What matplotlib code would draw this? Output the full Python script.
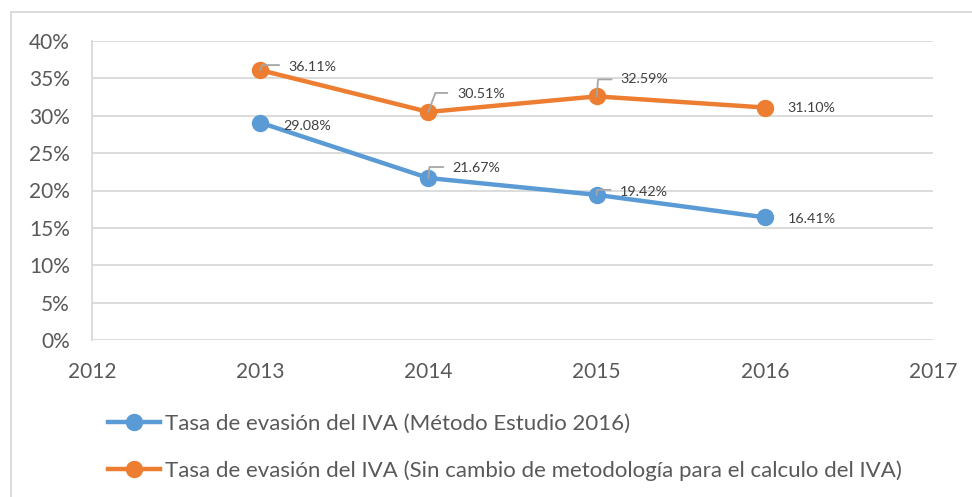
import matplotlib
matplotlib.use("Agg")
import matplotlib.pyplot as plt
from matplotlib.lines import Line2D
from matplotlib.ticker import FuncFormatter, MultipleLocator

years = [2013, 2014, 2015, 2016]
metodo_2016 = [29.08, 21.67, 19.42, 16.41]
sin_cambio = [36.11, 30.51, 32.59, 31.10]
label_1 = "Tasa de evasión del IVA (Método Estudio 2016)"
label_2 = "Tasa de evasión del IVA (Sin cambio de metodología para el calculo del IVA)"

BLUE = "#5B9BD5"
ORANGE = "#ED7D31"
GRID = "#D9D9D9"
TXT = "#595959"
LEADER = "#A6A6A6"
FONT = "Lato"

W, H = 972, 497
fig = plt.figure(figsize=(W / 100, H / 100), dpi=100)
ax = fig.add_axes([92 / W, 1 - 340 / H, (933 - 92) / W, (340 - 41) / H])

ax.plot(years, metodo_2016, color=BLUE, lw=3.2, marker="o", ms=11.5, zorder=3, label=label_1)
ax.plot(years, sin_cambio, color=ORANGE, lw=3.2, marker="o", ms=11.5, zorder=3, label=label_2)

ax.set_xlim(2012, 2017)
ax.set_ylim(0, 40)
ax.yaxis.set_major_locator(MultipleLocator(5))
ax.xaxis.set_major_locator(MultipleLocator(1))
ax.yaxis.set_major_formatter(FuncFormatter(lambda v, p: f"{v:.0f}%"))
ax.xaxis.set_major_formatter(FuncFormatter(lambda v, p: f"{v:.0f}"))
ax.grid(axis="y", color=GRID, lw=1.3, zorder=0)
for s in ["top", "right", "bottom"]:
    ax.spines[s].set_visible(False)
ax.spines["left"].set_color(GRID)
ax.spines["left"].set_linewidth(1.3)
ax.tick_params(length=0, labelsize=15, labelcolor=TXT, pad=0)
ax.tick_params(axis="y", pad=16)
ax.tick_params(axis="x", pad=16)
for t in ax.get_xticklabels() + ax.get_yticklabels():
    t.set_fontfamily(FONT)

# data labels: (text dx, text dy, leader) in pixels relative to the marker
blue_lbl = [(23, -3, None), (24, 10, (2, 11, 15)), (23, 3, (1, 5, 14)), (23, -2, None)]
orange_lbl = [(28, 3, (7, 5, 19)), (29, 18, (8, 19, 19)), (24, 17, (2, 17, 15)), (23, 0, None)]

def put_labels(vals, specs):
    for x, v, (dx, dy, lead) in zip(years, vals, specs):
        ax.annotate(f"{v:.2f}%", xy=(x, v), xytext=(dx, dy), textcoords="offset pixels",
                    ha="left", va="center", fontsize=10.3, color="#404040",
                    fontfamily=FONT, zorder=5)
        if lead is not None:
            lx0, ly, lx1 = lead
            ax.annotate("", xy=(x, v), xytext=(lx1, ly), textcoords="offset pixels",
                        arrowprops=dict(arrowstyle="-", color=LEADER, lw=1.3,
                                        shrinkA=0, shrinkB=0,
                                        connectionstyle=f"angle,angleA=180,angleB={70 if lx0 > 4 else 85},rad=0"),
                        zorder=4)

put_labels(metodo_2016, blue_lbl)
put_labels(sin_cambio, orange_lbl)

leg = fig.legend(handles=ax.get_lines(), loc="upper left",
                 bbox_to_anchor=(108 / W, 1 - 414 / H), frameon=False,
                 prop={"family": FONT, "size": 16}, labelcolor=TXT,
                 handlelength=2.35, handletextpad=0.22, labelspacing=1.2,
                 borderaxespad=0, borderpad=0)

# outer chart border (extends beyond the image on right and bottom)
fig.add_artist(Line2D([11 / W, 11 / W], [0, 1 - 12 / H], transform=fig.transFigure, color=GRID, lw=1.3))
fig.add_artist(Line2D([11 / W, 1], [1 - 12 / H, 1 - 12 / H], transform=fig.transFigure, color=GRID, lw=1.3))

fig.savefig("out.png", dpi=100)
